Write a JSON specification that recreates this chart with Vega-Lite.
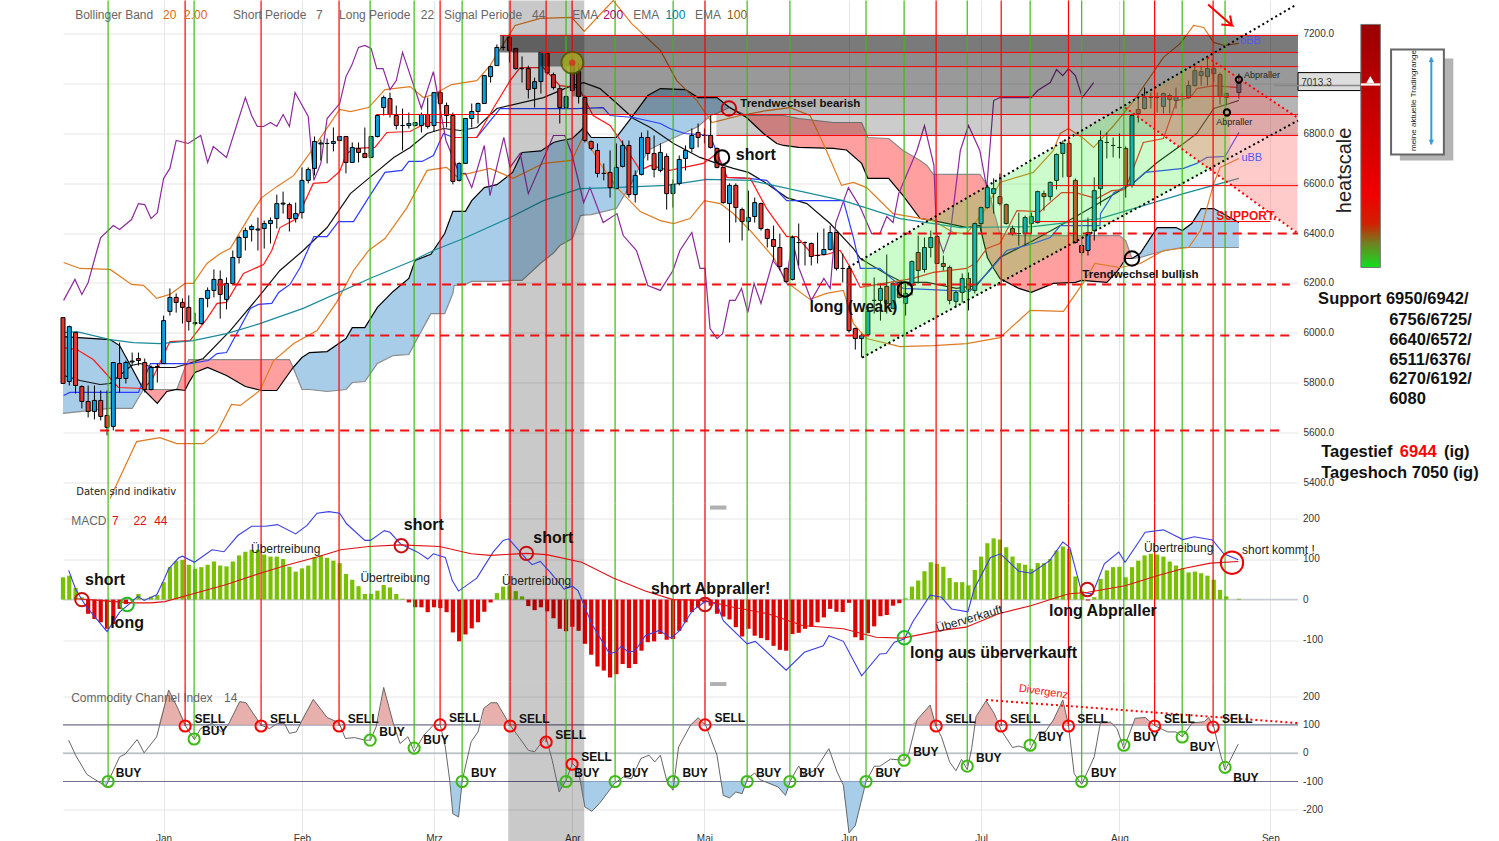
{
"$schema":"https://vega.github.io/schema/vega-lite/v6.json",
"description":"DAX Tageschart mit Bollinger, Ichimoku, MACD und CCI",
"background":"white",
"padding":{"left":60,"top":-2.5,"right":0,"bottom":0},
"spacing":0,
"bounds":"flush",
"config":{"font":"Liberation Sans","view":{"stroke":null},"axis":{"gridColor":"#e6e6e6","domain":false,"ticks":false,"labelFont":"Liberation Sans","labelColor":"#333333","labelFontSize":10,"labelOverlap":false}},
"datasets":{
"candles":[
{"n":-16,"o":6061,"h":6061,"l":5797,"c":5797},{"n":-15,"o":5805,"h":6029,"l":5789,"c":6025},{"n":-14,"o":6001,"h":6001,"l":5757,"c":5789},{"n":-13,"o":5785,"h":5789,"l":5697,"c":5725},{"n":-12,"o":5725,"h":5789,"l":5661,"c":5685},{"n":-11,"o":5685,"h":5789,"l":5653,"c":5729},{"n":-10,"o":5729,"h":5769,"l":5649,"c":5665},{"n":-9,"o":5669,"h":5769,"l":5589,"c":5621},{"n":-8,"o":5625,"h":5881,"l":5609,"c":5881},{"n":-7,"o":5877,"h":5961,"l":5761,"c":5817},{"n":-6,"o":5817,"h":5889,"l":5797,"c":5881},{"n":-5,"o":5883,"h":5921,"l":5869,"c":5887},{"n":-4,"o":5897,"h":5921,"l":5869,"c":5889},{"n":-3,"o":5881,"h":5897,"l":5761,"c":5773},{"n":-2,"o":5773,"h":5869,"l":5769,"c":5861},{"n":-1,"o":5863,"h":5877,"l":5801,"c":5865},
{"n":0,"o":5877,"h":6069,"l":5877,"c":6049},{"n":1,"o":6086,"h":6178,"l":6069,"c":6142},{"n":2,"o":6142,"h":6158,"l":6081,"c":6122},{"n":3,"o":6122,"h":6138,"l":6037,"c":6102},{"n":4,"o":6102,"h":6150,"l":6009,"c":6045},{"n":5,"o":6037,"h":6081,"l":6029,"c":6041},{"n":6,"o":6037,"h":6138,"l":6033,"c":6138},{"n":7,"o":6138,"h":6182,"l":6102,"c":6170},{"n":8,"o":6170,"h":6254,"l":6142,"c":6214},{"n":9,"o":6214,"h":6250,"l":6057,"c":6154},{"n":10,"o":6134,"h":6222,"l":6094,"c":6198},{"n":11,"o":6198,"h":6330,"l":6198,"c":6302},{"n":12,"o":6302,"h":6390,"l":6278,"c":6382},{"n":13,"o":6382,"h":6422,"l":6330,"c":6410},{"n":14,"o":6414,"h":6434,"l":6366,"c":6426},{"n":15,"o":6412,"h":6462,"l":6330,"c":6416},{"n":16,"o":6418,"h":6450,"l":6338,"c":6438},{"n":17,"o":6438,"h":6462,"l":6358,"c":6450},{"n":18,"o":6458,"h":6554,"l":6418,"c":6518},{"n":19,"o":6516,"h":6566,"l":6478,"c":6520},
{"n":20,"o":6514,"h":6522,"l":6406,"c":6458},{"n":21,"o":6458,"h":6522,"l":6442,"c":6478},{"n":22,"o":6482,"h":6663,"l":6458,"c":6611},{"n":23,"o":6611,"h":6663,"l":6599,"c":6655},{"n":24,"o":6659,"h":6787,"l":6631,"c":6767},{"n":25,"o":6757,"h":6775,"l":6691,"c":6761},{"n":26,"o":6759,"h":6779,"l":6679,"c":6759},{"n":27,"o":6759,"h":6823,"l":6727,"c":6767},{"n":28,"o":6771,"h":6787,"l":6771,"c":6787},{"n":29,"o":6787,"h":6787,"l":6639,"c":6683},{"n":30,"o":6683,"h":6763,"l":6683,"c":6743},{"n":31,"o":6739,"h":6763,"l":6683,"c":6723},{"n":32,"o":6719,"h":6823,"l":6703,"c":6703},{"n":33,"o":6703,"h":6787,"l":6703,"c":6787},{"n":34,"o":6787,"h":6871,"l":6783,"c":6871},{"n":35,"o":6903,"h":6951,"l":6871,"c":6943},{"n":36,"o":6939,"h":6963,"l":6863,"c":6875},{"n":37,"o":6871,"h":6911,"l":6815,"c":6831},{"n":38,"o":6831,"h":6899,"l":6731,"c":6831},{"n":39,"o":6831,"h":6883,"l":6819,"c":6839},
{"n":40,"o":6831,"h":6845,"l":6827,"c":6843},{"n":41,"o":6831,"h":6883,"l":6803,"c":6875},{"n":42,"o":6875,"h":6943,"l":6819,"c":6827},{"n":43,"o":6831,"h":6963,"l":6807,"c":6963},{"n":44,"o":6963,"h":6971,"l":6819,"c":6919},{"n":45,"o":6911,"h":6923,"l":6823,"c":6871},{"n":46,"o":6871,"h":6883,"l":6595,"c":6607},{"n":47,"o":6611,"h":6683,"l":6607,"c":6679},{"n":48,"o":6679,"h":6859,"l":6679,"c":6859},{"n":49,"o":6859,"h":6919,"l":6823,"c":6887},{"n":50,"o":6887,"h":6923,"l":6839,"c":6919},{"n":51,"o":6919,"h":7031,"l":6919,"c":7031},{"n":52,"o":7027,"h":7071,"l":7003,"c":7067},{"n":53,"o":7071,"h":7156,"l":7071,"c":7144},{"n":54,"o":7144,"h":7192,"l":7132,"c":7144},{"n":55,"o":7184,"h":7192,"l":7083,"c":7132},{"n":56,"o":7140,"h":7140,"l":7055,"c":7059},{"n":57,"o":7059,"h":7108,"l":7003,"c":7059},{"n":58,"o":7059,"h":7071,"l":6939,"c":6975},{"n":59,"o":6979,"h":7023,"l":6903,"c":7007},
{"n":60,"o":7007,"h":7124,"l":6959,"c":7124},{"n":61,"o":7120,"h":7124,"l":7035,"c":7043},{"n":62,"o":7035,"h":7043,"l":6975,"c":6983},{"n":63,"o":6979,"h":6991,"l":6839,"c":6903},{"n":64,"o":6903,"h":6951,"l":6899,"c":6947},{"n":65,"o":6971,"h":7112,"l":6967,"c":7083},{"n":66,"o":7047,"h":7079,"l":6919,"c":6947},{"n":67,"o":6943,"h":6951,"l":6763,"c":6771},{"n":68,"o":6767,"h":6771,"l":6731,"c":6739},{"n":69,"o":6731,"h":6759,"l":6623,"c":6639},{"n":70,"o":6639,"h":6679,"l":6611,"c":6639},{"n":71,"o":6643,"h":6731,"l":6542,"c":6582},{"n":72,"o":6578,"h":6759,"l":6578,"c":6663},{"n":73,"o":6667,"h":6771,"l":6663,"c":6751},{"n":74,"o":6751,"h":6771,"l":6542,"c":6554},{"n":75,"o":6554,"h":6651,"l":6522,"c":6631},{"n":76,"o":6635,"h":6803,"l":6631,"c":6783},{"n":77,"o":6783,"h":6811,"l":6691,"c":6719},{"n":78,"o":6719,"h":6791,"l":6623,"c":6655},{"n":79,"o":6651,"h":6759,"l":6643,"c":6723},
{"n":80,"o":6707,"h":6719,"l":6494,"c":6558},{"n":81,"o":6558,"h":6615,"l":6502,"c":6595},{"n":82,"o":6599,"h":6711,"l":6591,"c":6695},{"n":83,"o":6699,"h":6751,"l":6651,"c":6731},{"n":84,"o":6739,"h":6819,"l":6723,"c":6791},{"n":85,"o":6803,"h":6839,"l":6743,"c":6783},{"n":86,"o":6791,"h":6819,"l":6759,"c":6791},{"n":87,"o":6791,"h":6871,"l":6739,"c":6743},{"n":88,"o":6739,"h":6743,"l":6659,"c":6663},{"n":89,"o":6663,"h":6663,"l":6518,"c":6522},{"n":90,"o":6518,"h":6599,"l":6362,"c":6591},{"n":91,"o":6591,"h":6599,"l":6442,"c":6502},{"n":92,"o":6494,"h":6502,"l":6370,"c":6446},{"n":93,"o":6446,"h":6570,"l":6410,"c":6462},{"n":94,"o":6466,"h":6542,"l":6442,"c":6522},{"n":95,"o":6518,"h":6522,"l":6410,"c":6418},{"n":96,"o":6414,"h":6418,"l":6342,"c":6378},{"n":97,"o":6374,"h":6430,"l":6290,"c":6346},{"n":98,"o":6342,"h":6398,"l":6250,"c":6266},{"n":99,"o":6258,"h":6262,"l":6202,"c":6206},
{"n":100,"o":6214,"h":6390,"l":6210,"c":6382},{"n":101,"o":6362,"h":6438,"l":6270,"c":6362},{"n":102,"o":6362,"h":6366,"l":6270,"c":6362},{"n":103,"o":6358,"h":6362,"l":6270,"c":6306},{"n":104,"o":6310,"h":6402,"l":6278,"c":6310},{"n":105,"o":6314,"h":6418,"l":6310,"c":6334},{"n":106,"o":6334,"h":6430,"l":6330,"c":6402},{"n":107,"o":6402,"h":6402,"l":6250,"c":6258},{"n":108,"o":6258,"h":6318,"l":6202,"c":6258},{"n":109,"o":6258,"h":6262,"l":6001,"c":6009},{"n":110,"o":6017,"h":6021,"l":5933,"c":5977},{"n":111,"o":5977,"h":5997,"l":5901,"c":5989},{"n":112,"o":5993,"h":6102,"l":5989,"c":6086},{"n":113,"o":6130,"h":6222,"l":6077,"c":6130},{"n":114,"o":6130,"h":6198,"l":6049,"c":6178},{"n":115,"o":6186,"h":6314,"l":6077,"c":6118},{"n":116,"o":6098,"h":6202,"l":6094,"c":6198},{"n":117,"o":6202,"h":6206,"l":6138,"c":6142},{"n":118,"o":6118,"h":6198,"l":6069,"c":6158},{"n":119,"o":6190,"h":6290,"l":6150,"c":6286},
{"n":120,"o":6322,"h":6390,"l":6198,"c":6250},{"n":121,"o":6254,"h":6382,"l":6242,"c":6342},{"n":122,"o":6342,"h":6410,"l":6302,"c":6382},{"n":123,"o":6386,"h":6386,"l":6278,"c":6278},{"n":124,"o":6278,"h":6310,"l":6250,"c":6266},{"n":125,"o":6262,"h":6270,"l":6114,"c":6130},{"n":126,"o":6126,"h":6170,"l":6102,"c":6162},{"n":127,"o":6162,"h":6238,"l":6122,"c":6218},{"n":128,"o":6218,"h":6242,"l":6090,"c":6174},{"n":129,"o":6170,"h":6442,"l":6158,"c":6438},{"n":130,"o":6438,"h":6506,"l":6402,"c":6502},{"n":131,"o":6502,"h":6586,"l":6498,"c":6582},{"n":132,"o":6558,"h":6619,"l":6478,"c":6578},{"n":133,"o":6546,"h":6639,"l":6510,"c":6518},{"n":134,"o":6514,"h":6518,"l":6434,"c":6438},{"n":135,"o":6418,"h":6430,"l":6390,"c":6398},{"n":136,"o":6398,"h":6482,"l":6350,"c":6398},{"n":137,"o":6398,"h":6470,"l":6350,"c":6462},{"n":138,"o":6438,"h":6482,"l":6398,"c":6466},{"n":139,"o":6442,"h":6570,"l":6438,"c":6566},
{"n":140,"o":6558,"h":6570,"l":6490,"c":6546},{"n":141,"o":6546,"h":6607,"l":6530,"c":6603},{"n":142,"o":6611,"h":6719,"l":6574,"c":6715},{"n":143,"o":6719,"h":6771,"l":6623,"c":6759},{"n":144,"o":6759,"h":6771,"l":6623,"c":6627},{"n":145,"o":6611,"h":6619,"l":6358,"c":6362},{"n":146,"o":6350,"h":6390,"l":6310,"c":6322},{"n":147,"o":6330,"h":6462,"l":6310,"c":6402},{"n":148,"o":6410,"h":6623,"l":6370,"c":6570},{"n":149,"o":6578,"h":6811,"l":6510,"c":6771},{"n":150,"o":6763,"h":6803,"l":6699,"c":6763},{"n":151,"o":6751,"h":6783,"l":6703,"c":6751},{"n":152,"o":6743,"h":6799,"l":6699,"c":6743},{"n":153,"o":6739,"h":6747,"l":6542,"c":6591},{"n":154,"o":6591,"h":6879,"l":6582,"c":6871},{"n":155,"o":6895,"h":6943,"l":6843,"c":6879},{"n":156,"o":6899,"h":6983,"l":6895,"c":6943},{"n":157,"o":6943,"h":6963,"l":6899,"c":6943},{"n":158,"o":6943,"h":6963,"l":6883,"c":6943},{"n":159,"o":6907,"h":6963,"l":6879,"c":6959},
{"n":160,"o":6951,"h":6959,"l":6879,"c":6935},{"n":161,"o":6931,"h":6983,"l":6899,"c":6947},{"n":162,"o":6947,"h":6959,"l":6903,"c":6947},{"n":163,"o":6943,"h":7011,"l":6939,"c":6991},{"n":164,"o":6991,"h":7071,"l":6987,"c":7051},{"n":165,"o":7031,"h":7071,"l":6991,"c":7047},{"n":166,"o":7027,"h":7104,"l":6991,"c":7059},{"n":167,"o":7039,"h":7079,"l":7003,"c":7059},{"n":168,"o":7035,"h":7043,"l":6915,"c":6947},{"n":169,"o":6943,"h":6963,"l":6911,"c":6959},{"n":171,"o":6963,"h":7039,"l":6939,"c":6999}
],
"cloud":[
{"seg":1,"kind":"blue","n":-16,"v":5985,"v2":5677},{"seg":1,"kind":"blue","n":-8.5,"v":5973,"v2":5697},{"seg":1,"kind":"blue","n":-7,"v":5949,"v2":5697},{"seg":1,"kind":"blue","n":-5,"v":5857,"v2":5697},{"seg":1,"kind":"blue","n":-3.2,"v":5773,"v2":5773},
{"seg":2,"kind":"red","n":-3.2,"v":5773,"v2":5773},{"seg":2,"kind":"red","n":-1,"v":5717,"v2":5773},{"seg":2,"kind":"red","n":0.5,"v":5765,"v2":5773},{"seg":2,"kind":"red","n":2.1,"v":5773,"v2":5773},{"seg":2,"kind":"red","n":3.4,"v":5769,"v2":5861},{"seg":2,"kind":"red","n":4,"v":5800,"v2":5893},{"seg":2,"kind":"red","n":5,"v":5841,"v2":5893},{"seg":2,"kind":"red","n":7,"v":5861,"v2":5893},{"seg":2,"kind":"red","n":10,"v":5829,"v2":5893},{"seg":2,"kind":"red","n":13,"v":5785,"v2":5893},{"seg":2,"kind":"red","n":15.6,"v":5769,"v2":5893},{"seg":2,"kind":"red","n":18,"v":5769,"v2":5893},{"seg":2,"kind":"red","n":20,"v":5840,"v2":5893},{"seg":2,"kind":"red","n":20.6,"v":5861,"v2":5861},
{"seg":3,"kind":"blue","n":20.6,"v":5861,"v2":5861},{"seg":3,"kind":"blue","n":22,"v":5901,"v2":5773},{"seg":3,"kind":"blue","n":23.2,"v":5921,"v2":5773},{"seg":3,"kind":"blue","n":26,"v":5925,"v2":5765},{"seg":3,"kind":"blue","n":29,"v":5977,"v2":5773},{"seg":3,"kind":"blue","n":30,"v":6021,"v2":5801},{"seg":3,"kind":"blue","n":32,"v":6021,"v2":5805},{"seg":3,"kind":"blue","n":34,"v":6102,"v2":5877},{"seg":3,"kind":"blue","n":36.5,"v":6166,"v2":5909},{"seg":3,"kind":"blue","n":39,"v":6218,"v2":5913},{"seg":3,"kind":"blue","n":40,"v":6290,"v2":5961},{"seg":3,"kind":"blue","n":42.5,"v":6315,"v2":6077},{"seg":3,"kind":"blue","n":44.7,"v":6398,"v2":6077},{"seg":3,"kind":"blue","n":46,"v":6487,"v2":6158},{"seg":3,"kind":"blue","n":46.2,"v":6487,"v2":6190},{"seg":3,"kind":"blue","n":48,"v":6487,"v2":6194},{"seg":3,"kind":"blue","n":49,"v":6530,"v2":6206},{"seg":3,"kind":"blue","n":51,"v":6582,"v2":6206},{"seg":3,"kind":"blue","n":53,"v":6594,"v2":6206},{"seg":3,"kind":"blue","n":55.5,"v":6643,"v2":6210},{"seg":3,"kind":"blue","n":57,"v":6723,"v2":6210},{"seg":3,"kind":"blue","n":60,"v":6729,"v2":6280},{"seg":3,"kind":"blue","n":62,"v":6763,"v2":6320},{"seg":3,"kind":"blue","n":63,"v":6770,"v2":6350},{"seg":3,"kind":"blue","n":65,"v":6779,"v2":6378},{"seg":3,"kind":"blue","n":66.3,"v":6810,"v2":6470},{"seg":3,"kind":"blue","n":66.8,"v":6823,"v2":6472},{"seg":3,"kind":"blue","n":68,"v":6783,"v2":6474},{"seg":3,"kind":"blue","n":72,"v":6783,"v2":6498},{"seg":3,"kind":"blue","n":74.4,"v":6863,"v2":6600},{"seg":3,"kind":"blue","n":77,"v":6951,"v2":6731},{"seg":3,"kind":"blue","n":79,"v":6979,"v2":6757},{"seg":3,"kind":"blue","n":83,"v":6975,"v2":6803},{"seg":3,"kind":"blue","n":85,"v":6943,"v2":6827},{"seg":3,"kind":"blue","n":87,"v":6943,"v2":6871},{"seg":3,"kind":"blue","n":88,"v":6943,"v2":6880},{"seg":3,"kind":"blue","n":90,"v":6903,"v2":6903},
{"seg":4,"kind":"red","n":90,"v":6903,"v2":6903},{"seg":4,"kind":"red","n":92.7,"v":6863,"v2":6871},{"seg":4,"kind":"red","n":95.4,"v":6799,"v2":6871},{"seg":4,"kind":"red","n":97.5,"v":6759,"v2":6871},{"seg":4,"kind":"red","n":98.6,"v":6751,"v2":6871},{"seg":4,"kind":"red","n":101,"v":6743,"v2":6859},{"seg":4,"kind":"red","n":106.5,"v":6739,"v2":6843},{"seg":4,"kind":"red","n":108.6,"v":6733,"v2":6843},{"seg":4,"kind":"red","n":111,"v":6679,"v2":6843},{"seg":4,"kind":"red","n":112,"v":6619,"v2":6783},{"seg":4,"kind":"red","n":115.3,"v":6619,"v2":6779},{"seg":4,"kind":"red","n":117.6,"v":6550,"v2":6731},{"seg":4,"kind":"red","n":120.3,"v":6458,"v2":6691},{"seg":4,"kind":"red","n":121.4,"v":6454,"v2":6671},{"seg":4,"kind":"red","n":122.4,"v":6450,"v2":6635},{"seg":4,"kind":"red","n":127.8,"v":6422,"v2":6635},{"seg":4,"kind":"red","n":129.8,"v":6430,"v2":6635},{"seg":4,"kind":"red","n":131,"v":6302,"v2":6591},{"seg":4,"kind":"red","n":132,"v":6258,"v2":6490},{"seg":4,"kind":"red","n":133,"v":6218,"v2":6398},{"seg":4,"kind":"red","n":136,"v":6178,"v2":6390},{"seg":4,"kind":"red","n":138,"v":6162,"v2":6390},{"seg":4,"kind":"red","n":141.5,"v":6198,"v2":6390},{"seg":4,"kind":"red","n":145,"v":6202,"v2":6390},{"seg":4,"kind":"red","n":146,"v":6210,"v2":6390},{"seg":4,"kind":"red","n":150,"v":6202,"v2":6390},{"seg":4,"kind":"red","n":151.5,"v":6242,"v2":6390},{"seg":4,"kind":"red","n":152,"v":6258,"v2":6390},{"seg":4,"kind":"red","n":153,"v":6298,"v2":6370},{"seg":4,"kind":"red","n":154,"v":6298,"v2":6298},
{"seg":5,"kind":"blue","n":154,"v":6298,"v2":6298},{"seg":5,"kind":"blue","n":155.3,"v":6318,"v2":6302},{"seg":5,"kind":"blue","n":158,"v":6422,"v2":6322},{"seg":5,"kind":"blue","n":161,"v":6422,"v2":6338},{"seg":5,"kind":"blue","n":162,"v":6410,"v2":6342},{"seg":5,"kind":"blue","n":163.5,"v":6438,"v2":6342},{"seg":5,"kind":"blue","n":165,"v":6498,"v2":6342},{"seg":5,"kind":"blue","n":167,"v":6498,"v2":6342},{"seg":5,"kind":"blue","n":171,"v":6442,"v2":6342}
],
"lines":[
{"s":"bbUp","n":-15.9,"v":6282},{"s":"bbUp","n":-13.3,"v":6258},{"s":"bbUp","n":-8.5,"v":6254},{"s":"bbUp","n":-5.1,"v":6194},{"s":"bbUp","n":-3.2,"v":6190},{"s":"bbUp","n":-1.1,"v":6138},{"s":"bbUp","n":1,"v":6154},{"s":"bbUp","n":3.4,"v":6198},{"s":"bbUp","n":4.7,"v":6198},{"s":"bbUp","n":6.9,"v":6278},{"s":"bbUp","n":9,"v":6318},{"s":"bbUp","n":10.6,"v":6338},{"s":"bbUp","n":14,"v":6482},{"s":"bbUp","n":15.6,"v":6542},{"s":"bbUp","n":18,"v":6586},{"s":"bbUp","n":20.7,"v":6631},{"s":"bbUp","n":23.8,"v":6739},{"s":"bbUp","n":28,"v":6895},{"s":"bbUp","n":29.7,"v":6887},{"s":"bbUp","n":32.6,"v":6903},{"s":"bbUp","n":35.2,"v":6975},{"s":"bbUp","n":39.2,"v":6987},{"s":"bbUp","n":41.3,"v":6943},{"s":"bbUp","n":42.9,"v":6955},{"s":"bbUp","n":45.8,"v":6995},{"s":"bbUp","n":49.8,"v":7011},{"s":"bbUp","n":51.9,"v":7071},{"s":"bbUp","n":55.1,"v":7200},{"s":"bbUp","n":55.9,"v":7232},{"s":"bbUp","n":59.9,"v":7260},{"s":"bbUp","n":64.9,"v":7264},{"s":"bbUp","n":66.9,"v":7208},{"s":"bbUp","n":69.4,"v":7276},{"s":"bbUp","n":71.5,"v":7332},{"s":"bbUp","n":74.4,"v":7240},{"s":"bbUp","n":79,"v":7132},{"s":"bbUp","n":81.6,"v":7011},{"s":"bbUp","n":84.8,"v":6931},{"s":"bbUp","n":87.2,"v":6843},{"s":"bbUp","n":91.7,"v":6871},{"s":"bbUp","n":95.9,"v":6891},{"s":"bbUp","n":99.6,"v":6903},{"s":"bbUp","n":102.8,"v":6871},{"s":"bbUp","n":104.9,"v":6759},{"s":"bbUp","n":107.8,"v":6591},{"s":"bbUp","n":109.7,"v":6603},{"s":"bbUp","n":111.8,"v":6582},{"s":"bbUp","n":116,"v":6478},{"s":"bbUp","n":122.4,"v":6450},{"s":"bbUp","n":125.6,"v":6402},{"s":"bbUp","n":127.7,"v":6398},{"s":"bbUp","n":130.9,"v":6502},{"s":"bbUp","n":133,"v":6603},{"s":"bbUp","n":138.3,"v":6643},{"s":"bbUp","n":141.5,"v":6731},{"s":"bbUp","n":142.6,"v":6799},{"s":"bbUp","n":143.9,"v":6819},{"s":"bbUp","n":146.3,"v":6779},{"s":"bbUp","n":147.9,"v":6743},{"s":"bbUp","n":151.1,"v":6831},{"s":"bbUp","n":154.3,"v":6931},{"s":"bbUp","n":159,"v":7104},{"s":"bbUp","n":161.7,"v":7160},{"s":"bbUp","n":163.8,"v":7232},{"s":"bbUp","n":165.4,"v":7224},{"s":"bbUp","n":167,"v":7164},{"s":"bbUp","n":168.6,"v":7152},{"s":"bbUp","n":171,"v":7160},
{"s":"bbLo","n":-8.5,"v":5336},{"s":"bbLo","n":-7.4,"v":5396},{"s":"bbLo","n":-4.3,"v":5564},{"s":"bbLo","n":-0.6,"v":5580},{"s":"bbLo","n":2.1,"v":5556},{"s":"bbLo","n":6.3,"v":5556},{"s":"bbLo","n":8.5,"v":5601},{"s":"bbLo","n":10.8,"v":5713},{"s":"bbLo","n":12.2,"v":5709},{"s":"bbLo","n":15.3,"v":5769},{"s":"bbLo","n":17.5,"v":5889},{"s":"bbLo","n":20.7,"v":5957},{"s":"bbLo","n":24.4,"v":6009},{"s":"bbLo","n":27.5,"v":6122},{"s":"bbLo","n":30.2,"v":6250},{"s":"bbLo","n":32.6,"v":6330},{"s":"bbLo","n":35.2,"v":6378},{"s":"bbLo","n":38.7,"v":6502},{"s":"bbLo","n":41.9,"v":6651},{"s":"bbLo","n":45,"v":6663},{"s":"bbLo","n":46.6,"v":6627},{"s":"bbLo","n":51.9,"v":6659},{"s":"bbLo","n":55.6,"v":6619},{"s":"bbLo","n":60.4,"v":6679},{"s":"bbLo","n":64.9,"v":6691},{"s":"bbLo","n":66.8,"v":6791},{"s":"bbLo","n":69.4,"v":6679},{"s":"bbLo","n":72.1,"v":6582},{"s":"bbLo","n":75.8,"v":6486},{"s":"bbLo","n":79,"v":6450},{"s":"bbLo","n":81.1,"v":6438},{"s":"bbLo","n":83.7,"v":6458},{"s":"bbLo","n":86,"v":6530},{"s":"bbLo","n":88.5,"v":6518},{"s":"bbLo","n":90.6,"v":6478},{"s":"bbLo","n":93.3,"v":6410},{"s":"bbLo","n":97,"v":6302},{"s":"bbLo","n":99.1,"v":6202},{"s":"bbLo","n":102.8,"v":6134},{"s":"bbLo","n":105.4,"v":6158},{"s":"bbLo","n":108.1,"v":6170},{"s":"bbLo","n":109.7,"v":6037},{"s":"bbLo","n":111.8,"v":5977},{"s":"bbLo","n":117.1,"v":5945},{"s":"bbLo","n":122.4,"v":5949},{"s":"bbLo","n":127.7,"v":5957},{"s":"bbLo","n":133,"v":5981},{"s":"bbLo","n":137.8,"v":6090},{"s":"bbLo","n":143.1,"v":6086},{"s":"bbLo","n":146.3,"v":6202},{"s":"bbLo","n":148.1,"v":6278},{"s":"bbLo","n":152.1,"v":6262},{"s":"bbLo","n":155.3,"v":6278},{"s":"bbLo","n":159,"v":6330},{"s":"bbLo","n":163,"v":6342},{"s":"bbLo","n":164.9,"v":6410},{"s":"bbLo","n":167,"v":6598},{"s":"bbLo","n":168,"v":6663},{"s":"bbLo","n":171,"v":6699},
{"s":"black","n":-15.9,"v":5829},{"s":"black","n":-13.3,"v":5809},{"s":"black","n":-10.1,"v":5793},{"s":"black","n":-8.5,"v":5797},{"s":"black","n":-5.1,"v":5869},{"s":"black","n":-3.7,"v":5877},{"s":"black","n":-1.6,"v":5861},{"s":"black","n":1.8,"v":5861},{"s":"black","n":4,"v":5877},{"s":"black","n":6.3,"v":5897},{"s":"black","n":10.6,"v":6009},{"s":"black","n":15.3,"v":6150},{"s":"black","n":18.5,"v":6250},{"s":"black","n":22.2,"v":6330},{"s":"black","n":26,"v":6422},{"s":"black","n":29.7,"v":6558},{"s":"black","n":32.8,"v":6623},{"s":"black","n":36.6,"v":6703},{"s":"black","n":39.2,"v":6743},{"s":"black","n":41.9,"v":6799},{"s":"black","n":44.5,"v":6819},{"s":"black","n":47.2,"v":6811},{"s":"black","n":49.8,"v":6823},{"s":"black","n":53,"v":6899},{"s":"black","n":60.4,"v":6943},{"s":"black","n":64.9,"v":6991},{"s":"black","n":66.8,"v":7003},{"s":"black","n":69.4,"v":6979},{"s":"black","n":72.1,"v":6919},{"s":"black","n":74.7,"v":6859},{"s":"black","n":77.4,"v":6823},{"s":"black","n":81.1,"v":6759},{"s":"black","n":85.3,"v":6703},{"s":"black","n":88,"v":6679},{"s":"black","n":90.6,"v":6659},{"s":"black","n":93,"v":6643},{"s":"black","n":95.9,"v":6599},{"s":"black","n":99.1,"v":6542},{"s":"black","n":102.3,"v":6518},{"s":"black","n":106,"v":6438},{"s":"black","n":109.7,"v":6338},{"s":"black","n":110.8,"v":6298},{"s":"black","n":114.5,"v":6242},{"s":"black","n":117.6,"v":6202},{"s":"black","n":121.4,"v":6202},{"s":"black","n":126.1,"v":6178},{"s":"black","n":129.3,"v":6190},{"s":"black","n":133,"v":6302},{"s":"black","n":138.3,"v":6370},{"s":"black","n":142.6,"v":6430},{"s":"black","n":148.9,"v":6522},{"s":"black","n":154.3,"v":6603},{"s":"black","n":158,"v":6683},{"s":"black","n":162.2,"v":6759},{"s":"black","n":164.3,"v":6799},{"s":"black","n":167,"v":6899},{"s":"black","n":171,"v":6931},
{"s":"blue","n":-15.9,"v":5749},{"s":"blue","n":-14.9,"v":5761},{"s":"blue","n":-4,"v":5761},{"s":"blue","n":-2.1,"v":5877},{"s":"blue","n":4.2,"v":5877},{"s":"blue","n":7.1,"v":5889},{"s":"blue","n":8.5,"v":5917},{"s":"blue","n":10,"v":5921},{"s":"blue","n":13.8,"v":6098},{"s":"blue","n":15.1,"v":6114},{"s":"blue","n":17.2,"v":6118},{"s":"blue","n":18.3,"v":6162},{"s":"blue","n":20.1,"v":6194},{"s":"blue","n":21.7,"v":6262},{"s":"blue","n":23.9,"v":6386},{"s":"blue","n":26,"v":6386},{"s":"blue","n":27.8,"v":6446},{"s":"blue","n":30.2,"v":6446},{"s":"blue","n":32.6,"v":6542},{"s":"blue","n":35.2,"v":6643},{"s":"blue","n":37.9,"v":6651},{"s":"blue","n":39,"v":6687},{"s":"blue","n":41.1,"v":6687},{"s":"blue","n":42.9,"v":6711},{"s":"blue","n":44.5,"v":6799},{"s":"blue","n":46.1,"v":6783},{"s":"blue","n":49.8,"v":6783},{"s":"blue","n":53,"v":6883},{"s":"blue","n":53.5,"v":6899},{"s":"blue","n":65.7,"v":6899},{"s":"blue","n":69.9,"v":6903},{"s":"blue","n":71,"v":6871},{"s":"blue","n":74.7,"v":6863},{"s":"blue","n":79,"v":6839},{"s":"blue","n":80.5,"v":6819},{"s":"blue","n":82.9,"v":6799},{"s":"blue","n":86.9,"v":6791},{"s":"blue","n":89.6,"v":6623},{"s":"blue","n":93,"v":6619},{"s":"blue","n":95.9,"v":6611},{"s":"blue","n":99.1,"v":6530},{"s":"blue","n":108.1,"v":6530},{"s":"blue","n":109.7,"v":6382},{"s":"blue","n":110.8,"v":6258},{"s":"blue","n":113.9,"v":6258},{"s":"blue","n":117.6,"v":6178},{"s":"blue","n":128.2,"v":6166},{"s":"blue","n":131.4,"v":6250},{"s":"blue","n":134.1,"v":6330},{"s":"blue","n":138.3,"v":6358},{"s":"blue","n":141,"v":6382},{"s":"blue","n":142.6,"v":6430},{"s":"blue","n":148.9,"v":6430},{"s":"blue","n":149,"v":6478},{"s":"blue","n":151.1,"v":6562},{"s":"blue","n":154.3,"v":6603},{"s":"blue","n":156.1,"v":6643},{"s":"blue","n":162.2,"v":6659},{"s":"blue","n":164.3,"v":6679},{"s":"blue","n":165.9,"v":6703},{"s":"blue","n":168.8,"v":6707},{"s":"blue","n":171,"v":6803},
{"s":"red","n":-15.9,"v":5941},{"s":"red","n":-13.8,"v":5933},{"s":"red","n":-11.2,"v":5893},{"s":"red","n":-9.6,"v":5849},{"s":"red","n":-7.2,"v":5781},{"s":"red","n":-3.2,"v":5777},{"s":"red","n":-1.9,"v":5809},{"s":"red","n":1,"v":5965},{"s":"red","n":4.2,"v":5969},{"s":"red","n":6.9,"v":6057},{"s":"red","n":8.5,"v":6118},{"s":"red","n":10,"v":6122},{"s":"red","n":12.7,"v":6238},{"s":"red","n":15.9,"v":6274},{"s":"red","n":17.2,"v":6330},{"s":"red","n":18.5,"v":6422},{"s":"red","n":21.2,"v":6458},{"s":"red","n":23.8,"v":6599},{"s":"red","n":26,"v":6603},{"s":"red","n":28,"v":6647},{"s":"red","n":29.1,"v":6719},{"s":"red","n":30.5,"v":6739},{"s":"red","n":33.6,"v":6743},{"s":"red","n":35.5,"v":6803},{"s":"red","n":39.2,"v":6807},{"s":"red","n":41.9,"v":6843},{"s":"red","n":45.8,"v":6843},{"s":"red","n":46.1,"v":6783},{"s":"red","n":49.8,"v":6783},{"s":"red","n":52.5,"v":6903},{"s":"red","n":55.1,"v":7011},{"s":"red","n":56.7,"v":7063},{"s":"red","n":60.4,"v":7063},{"s":"red","n":63,"v":6991},{"s":"red","n":66,"v":6983},{"s":"red","n":68.3,"v":6871},{"s":"red","n":71,"v":6831},{"s":"red","n":72.9,"v":6763},{"s":"red","n":75.8,"v":6651},{"s":"red","n":77.4,"v":6671},{"s":"red","n":80.5,"v":6651},{"s":"red","n":85.8,"v":6679},{"s":"red","n":88,"v":6719},{"s":"red","n":89.6,"v":6623},{"s":"red","n":93.3,"v":6619},{"s":"red","n":95.9,"v":6498},{"s":"red","n":99.1,"v":6386},{"s":"red","n":100.7,"v":6386},{"s":"red","n":103.3,"v":6310},{"s":"red","n":105.4,"v":6314},{"s":"red","n":107.6,"v":6330},{"s":"red","n":109.2,"v":6262},{"s":"red","n":110.8,"v":6182},{"s":"red","n":119.2,"v":6218},{"s":"red","n":122.4,"v":6242},{"s":"red","n":127.7,"v":6258},{"s":"red","n":129.3,"v":6282},{"s":"red","n":130.9,"v":6338},{"s":"red","n":133,"v":6358},{"s":"red","n":135.7,"v":6490},{"s":"red","n":139.4,"v":6486},{"s":"red","n":140.4,"v":6510},{"s":"red","n":142.8,"v":6562},{"s":"red","n":145,"v":6562},{"s":"red","n":148.4,"v":6538},{"s":"red","n":150.8,"v":6570},{"s":"red","n":152.9,"v":6574},{"s":"red","n":155.8,"v":6763},{"s":"red","n":159,"v":6779},{"s":"red","n":161.1,"v":6931},{"s":"red","n":163.3,"v":6943},{"s":"red","n":164.3,"v":6979},{"s":"red","n":167,"v":6991},{"s":"red","n":171,"v":6983},
{"s":"purple","n":-15.9,"v":6130},{"s":"purple","n":-14.1,"v":6214},{"s":"purple","n":-13,"v":6154},{"s":"purple","n":-12,"v":6202},{"s":"purple","n":-10.6,"v":6330},{"s":"purple","n":-10,"v":6382},{"s":"purple","n":-8,"v":6430},{"s":"purple","n":-7,"v":6414},{"s":"purple","n":-5.1,"v":6454},{"s":"purple","n":-4,"v":6518},{"s":"purple","n":-3,"v":6514},{"s":"purple","n":-2,"v":6458},{"s":"purple","n":-1,"v":6482},{"s":"purple","n":0,"v":6619},{"s":"purple","n":1,"v":6659},{"s":"purple","n":2,"v":6771},{"s":"purple","n":3.9,"v":6759},{"s":"purple","n":5.9,"v":6791},{"s":"purple","n":7,"v":6683},{"s":"purple","n":7.9,"v":6747},{"s":"purple","n":10,"v":6703},{"s":"purple","n":13,"v":6943},{"s":"purple","n":14,"v":6871},{"s":"purple","n":14.9,"v":6827},{"s":"purple","n":15.9,"v":6827},{"s":"purple","n":17,"v":6843},{"s":"purple","n":18,"v":6827},{"s":"purple","n":19,"v":6875},{"s":"purple","n":20,"v":6827},{"s":"purple","n":20.9,"v":6963},{"s":"purple","n":23,"v":6867},{"s":"purple","n":23.9,"v":6611},{"s":"purple","n":25,"v":6679},{"s":"purple","n":26,"v":6859},{"s":"purple","n":28,"v":6919},{"s":"purple","n":29,"v":7027},{"s":"purple","n":29.9,"v":7071},{"s":"purple","n":31,"v":7144},{"s":"purple","n":32,"v":7152},{"s":"purple","n":33,"v":7140},{"s":"purple","n":33.9,"v":7059},{"s":"purple","n":34.9,"v":7059},{"s":"purple","n":36,"v":6975},{"s":"purple","n":37,"v":7011},{"s":"purple","n":38,"v":7124},{"s":"purple","n":41,"v":6899},{"s":"purple","n":42.9,"v":7047},{"s":"purple","n":44.9,"v":6771},{"s":"purple","n":46,"v":6703},{"s":"purple","n":47,"v":6639},{"s":"purple","n":48,"v":6639},{"s":"purple","n":49,"v":6582},{"s":"purple","n":51,"v":6751},{"s":"purple","n":51.9,"v":6550},{"s":"purple","n":54.1,"v":6783},{"s":"purple","n":55.1,"v":6663},{"s":"purple","n":56.7,"v":6719},{"s":"purple","n":58,"v":6558},{"s":"purple","n":62,"v":6791},{"s":"purple","n":63.8,"v":6791},{"s":"purple","n":64.9,"v":6719},{"s":"purple","n":66.8,"v":6522},{"s":"purple","n":67.8,"v":6582},{"s":"purple","n":69.9,"v":6442},{"s":"purple","n":72.1,"v":6478},{"s":"purple","n":73.1,"v":6390},{"s":"purple","n":75.2,"v":6330},{"s":"purple","n":77,"v":6190},{"s":"purple","n":79,"v":6170},{"s":"purple","n":81,"v":6250},{"s":"purple","n":82.1,"v":6330},{"s":"purple","n":84,"v":6402},{"s":"purple","n":85.3,"v":6258},{"s":"purple","n":86.1,"v":6258},{"s":"purple","n":86.9,"v":6017},{"s":"purple","n":88,"v":5977},{"s":"purple","n":88.9,"v":5997},{"s":"purple","n":90,"v":6130},{"s":"purple","n":90.9,"v":6130},{"s":"purple","n":91.9,"v":6178},{"s":"purple","n":92.9,"v":6081},{"s":"purple","n":93.9,"v":6198},{"s":"purple","n":95,"v":6118},{"s":"purple","n":96.9,"v":6290},{"s":"purple","n":98,"v":6254},{"s":"purple","n":99,"v":6202},{"s":"purple","n":100,"v":6374},{"s":"purple","n":101,"v":6262},{"s":"purple","n":103,"v":6130},{"s":"purple","n":105,"v":6218},{"s":"purple","n":106,"v":6178},{"s":"purple","n":106.9,"v":6442},{"s":"purple","n":108.9,"v":6582},{"s":"purple","n":110.8,"v":6502},{"s":"purple","n":112.6,"v":6398},{"s":"purple","n":113.9,"v":6398},{"s":"purple","n":115,"v":6466},{"s":"purple","n":116,"v":6442},{"s":"purple","n":116.9,"v":6558},{"s":"purple","n":119.8,"v":6731},{"s":"purple","n":121,"v":6831},{"s":"purple","n":122.5,"v":6671},{"s":"purple","n":122.9,"v":6402},{"s":"purple","n":124,"v":6322},{"s":"purple","n":125.1,"v":6398},{"s":"purple","n":126.7,"v":6731},{"s":"purple","n":128,"v":6831},{"s":"purple","n":129.8,"v":6731},{"s":"purple","n":130.9,"v":6582},{"s":"purple","n":132,"v":6931},{"s":"purple","n":133,"v":6943},{"s":"purple","n":138,"v":6943},{"s":"purple","n":139,"v":6971},{"s":"purple","n":141,"v":7003},{"s":"purple","n":142,"v":7055},{"s":"purple","n":143,"v":7031},{"s":"purple","n":143.9,"v":7059},{"s":"purple","n":145,"v":7031},{"s":"purple","n":146.1,"v":6943},{"s":"purple","n":147.9,"v":7003},
{"s":"teal","n":-15.9,"v":6001},{"s":"teal","n":-13.8,"v":6005},{"s":"teal","n":-8.5,"v":5973},{"s":"teal","n":-4.8,"v":5961},{"s":"teal","n":-0.6,"v":5957},{"s":"teal","n":4.7,"v":5969},{"s":"teal","n":10,"v":5997},{"s":"teal","n":15.3,"v":6037},{"s":"teal","n":22.2,"v":6098},{"s":"teal","n":32.8,"v":6218},{"s":"teal","n":39.7,"v":6290},{"s":"teal","n":42.9,"v":6330},{"s":"teal","n":47.7,"v":6378},{"s":"teal","n":55.1,"v":6462},{"s":"teal","n":60.4,"v":6530},{"s":"teal","n":66.2,"v":6578},{"s":"teal","n":71.5,"v":6582},{"s":"teal","n":80,"v":6591},{"s":"teal","n":86.4,"v":6615},{"s":"teal","n":93.3,"v":6611},{"s":"teal","n":108.1,"v":6530},{"s":"teal","n":117.1,"v":6458},{"s":"teal","n":126.7,"v":6422},{"s":"teal","n":138.3,"v":6426},{"s":"teal","n":148.9,"v":6458},{"s":"teal","n":162.2,"v":6558},{"s":"teal","n":171,"v":6619}
],
"signals":[
{"n":-8.83,"kind":"buy","v":-100},{"n":3.42,"kind":"sell","v":96},{"n":4.85,"kind":"buy","v":50},{"n":15.5,"kind":"sell","v":96},{"n":27.9,"kind":"sell","v":96},{"n":32.84,"kind":"buy","v":46},{"n":39.84,"kind":"buy","v":18},{"n":43.97,"kind":"sell","v":100},{"n":47.47,"kind":"buy","v":-100},{"n":55.1,"kind":"sell","v":96},{"n":60.83,"kind":"sell","v":39},{"n":64,"kind":"buy","v":-100},{"n":64.96,"kind":"sell","v":-39},{"n":71.8,"kind":"buy","v":-100},{"n":81.03,"kind":"buy","v":-100},{"n":86.1,"kind":"sell","v":100},{"n":92.8,"kind":"buy","v":-100},{"n":99.6,"kind":"buy","v":-100},{"n":111.7,"kind":"buy","v":-100},{"n":117.76,"kind":"buy","v":-25},{"n":122.85,"kind":"sell","v":96},{"n":127.8,"kind":"buy","v":-46},{"n":133.2,"kind":"sell","v":96},{"n":137.8,"kind":"buy","v":28},{"n":143.9,"kind":"sell","v":96},{"n":146,"kind":"buy","v":-100},{"n":152.7,"kind":"buy","v":28},{"n":157.6,"kind":"sell","v":96},{"n":161.98,"kind":"buy","v":57},{"n":166.9,"kind":"sell","v":92},{"n":168.8,"kind":"buy","v":-50}
],
"macdHist":[
{"n":-16,"v":55},{"n":-15,"v":59},{"n":-14,"v":29},{"n":-13,"v":6},{"n":-12,"v":-35},{"n":-11,"v":-48},{"n":-10,"v":-56},{"n":-9,"v":-72},{"n":-8,"v":-60},{"n":-7,"v":-23},{"n":-6,"v":-11},{"n":-5,"v":-2},{"n":-4,"v":14},{"n":-3,"v":2},{"n":-2,"v":7},{"n":-1,"v":11},{"n":0,"v":43},{"n":1,"v":80},{"n":2,"v":95},{"n":3,"v":98},{"n":4,"v":86},{"n":5,"v":76},{"n":6,"v":80},{"n":7,"v":86},{"n":8,"v":94},{"n":9,"v":84},{"n":10,"v":82},{"n":11,"v":94},{"n":12,"v":109},{"n":13,"v":118},{"n":14,"v":123},{"n":15,"v":123},{"n":16,"v":111},{"n":17,"v":106},{"n":18,"v":106},{"n":19,"v":100},{"n":20,"v":81},{"n":21,"v":69},{"n":22,"v":77},{"n":23,"v":84},{"n":24,"v":105},{"n":25,"v":109},{"n":26,"v":103},{"n":27,"v":96},{"n":28,"v":90},{"n":29,"v":63},{"n":30,"v":49},{"n":31,"v":33},{"n":32,"v":14},{"n":33,"v":14},{"n":34,"v":22},{"n":35,"v":36},{"n":36,"v":30},{"n":37,"v":14},{"n":38,"v":2},{"n":39,"v":-7},{"n":40,"v":-19},{"n":41,"v":-19},{"n":42,"v":-31},{"n":43,"v":-19},{"n":44,"v":-21},{"n":45,"v":-31},{"n":46,"v":-81},{"n":47,"v":-103},{"n":48,"v":-86},{"n":49,"v":-71},{"n":50,"v":-56},{"n":51,"v":-30},{"n":52,"v":-7},{"n":53,"v":16},{"n":54,"v":32},{"n":55,"v":35},{"n":56,"v":21},{"n":57,"v":8},{"n":58,"v":-16},{"n":59,"v":-26},{"n":60,"v":-19},{"n":61,"v":-29},{"n":62,"v":-46},{"n":63,"v":-72},{"n":64,"v":-78},{"n":65,"v":-67},{"n":66,"v":-77},{"n":67,"v":-109},{"n":68,"v":-136},{"n":69,"v":-165},{"n":70,"v":-175},{"n":71,"v":-192},{"n":72,"v":-184},{"n":73,"v":-159},{"n":74,"v":-169},{"n":75,"v":-159},{"n":76,"v":-126},{"n":77,"v":-105},{"n":78,"v":-103},{"n":79,"v":-85},{"n":80,"v":-99},{"n":81,"v":-97},{"n":82,"v":-77},{"n":83,"v":-56},{"n":84,"v":-31},{"n":85,"v":-19},{"n":86,"v":-7},{"n":87,"v":-15},{"n":88,"v":-35},{"n":89,"v":-42},{"n":90,"v":-49},{"n":91,"v":-68},{"n":92,"v":-91},{"n":93,"v":-72},{"n":94,"v":-89},{"n":95,"v":-95},{"n":96,"v":-100},{"n":97,"v":-114},{"n":98,"v":-124},{"n":99,"v":-126},{"n":100,"v":-85},{"n":101,"v":-82},{"n":102,"v":-72},{"n":103,"v":-67},{"n":104,"v":-56},{"n":105,"v":-44},{"n":106,"v":-23},{"n":107,"v":-30},{"n":108,"v":-31},{"n":109,"v":-8},{"n":110,"v":-93},{"n":111,"v":-100},{"n":112,"v":-83},{"n":113,"v":-66},{"n":114,"v":-41},{"n":115,"v":-38},{"n":116,"v":-15},{"n":117,"v":-9},{"n":118,"v":3},{"n":119,"v":32},{"n":120,"v":47},{"n":121,"v":70},{"n":122,"v":92},{"n":123,"v":88},{"n":124,"v":81},{"n":125,"v":53},{"n":126,"v":43},{"n":127,"v":43},{"n":128,"v":35},{"n":129,"v":73},{"n":130,"v":106},{"n":131,"v":139},{"n":132,"v":151},{"n":133,"v":148},{"n":134,"v":129},{"n":135,"v":106},{"n":136,"v":90},{"n":137,"v":86},{"n":138,"v":76},{"n":139,"v":90},{"n":140,"v":90},{"n":141,"v":100},{"n":142,"v":121},{"n":143,"v":131},{"n":144,"v":125},{"n":145,"v":57},{"n":146,"v":22},{"n":147,"v":-2},{"n":148,"v":6},{"n":149,"v":51},{"n":150,"v":72},{"n":151,"v":80},{"n":152,"v":81},{"n":153,"v":55},{"n":154,"v":80},{"n":155,"v":96},{"n":156,"v":109},{"n":157,"v":113},{"n":158,"v":111},{"n":159,"v":106},{"n":160,"v":94},{"n":161,"v":84},{"n":162,"v":76},{"n":163,"v":67},{"n":164,"v":69},{"n":165,"v":65},{"n":166,"v":59},{"n":167,"v":49},{"n":168,"v":24},{"n":169,"v":8},{"n":171,"v":2}
],
"macdLines":[
{"s":"macd","n":-15.1,"v":72},{"s":"macd","n":-14,"v":26},{"s":"macd","n":-12.4,"v":-15},{"s":"macd","n":-9,"v":-79},{"s":"macd","n":-7,"v":-31},{"s":"macd","n":-5.5,"v":-11},{"s":"macd","n":-4.1,"v":8},{"s":"macd","n":-3.1,"v":-2},{"s":"macd","n":-1.1,"v":12},{"s":"macd","n":0,"v":47},{"s":"macd","n":0.8,"v":76},{"s":"macd","n":2.4,"v":103},{"s":"macd","n":3,"v":107},{"s":"macd","n":4.9,"v":92},{"s":"macd","n":7.7,"v":123},{"s":"macd","n":9.6,"v":118},{"s":"macd","n":11.8,"v":158},{"s":"macd","n":14,"v":181},{"s":"macd","n":16.2,"v":181},{"s":"macd","n":18.1,"v":185},{"s":"macd","n":21,"v":162},{"s":"macd","n":22.8,"v":183},{"s":"macd","n":24.4,"v":213},{"s":"macd","n":26.3,"v":217},{"s":"macd","n":28,"v":213},{"s":"macd","n":29.1,"v":187},{"s":"macd","n":32,"v":146},{"s":"macd","n":32.9,"v":146},{"s":"macd","n":35.1,"v":170},{"s":"macd","n":36,"v":166},{"s":"macd","n":37.7,"v":137},{"s":"macd","n":40.4,"v":117},{"s":"macd","n":42,"v":100},{"s":"macd","n":42.9,"v":113},{"s":"macd","n":44.8,"v":104},{"s":"macd","n":45.9,"v":47},{"s":"macd","n":46.9,"v":21},{"s":"macd","n":49.8,"v":53},{"s":"macd","n":52.4,"v":117},{"s":"macd","n":54,"v":146},{"s":"macd","n":54.9,"v":150},{"s":"macd","n":57.7,"v":100},{"s":"macd","n":58.6,"v":86},{"s":"macd","n":59.9,"v":94},{"s":"macd","n":61.5,"v":67},{"s":"macd","n":63.7,"v":26},{"s":"macd","n":65,"v":33},{"s":"macd","n":65.9,"v":22},{"s":"macd","n":68.1,"v":-60},{"s":"macd","n":70.9,"v":-133},{"s":"macd","n":71.8,"v":-130},{"s":"macd","n":72.8,"v":-115},{"s":"macd","n":74,"v":-130},{"s":"macd","n":75,"v":-126},{"s":"macd","n":76.6,"v":-89},{"s":"macd","n":78.8,"v":-76},{"s":"macd","n":80.7,"v":-95},{"s":"macd","n":82.1,"v":-76},{"s":"macd","n":84.1,"v":-27},{"s":"macd","n":86.2,"v":-4},{"s":"macd","n":88,"v":-11},{"s":"macd","n":89,"v":-52},{"s":"macd","n":92.8,"v":-109},{"s":"macd","n":94.1,"v":-103},{"s":"macd","n":99,"v":-174},{"s":"macd","n":101.9,"v":-130},{"s":"macd","n":104.9,"v":-114},{"s":"macd","n":105.8,"v":-89},{"s":"macd","n":108.1,"v":-103},{"s":"macd","n":111,"v":-188},{"s":"macd","n":113.9,"v":-134},{"s":"macd","n":114.9,"v":-133},{"s":"macd","n":116.2,"v":-105},{"s":"macd","n":117.8,"v":-97},{"s":"macd","n":119.1,"v":-56},{"s":"macd","n":121.9,"v":11},{"s":"macd","n":123.7,"v":6},{"s":"macd","n":125.3,"v":-23},{"s":"macd","n":127.9,"v":-30},{"s":"macd","n":128.9,"v":26},{"s":"macd","n":131.5,"v":104},{"s":"macd","n":133.1,"v":113},{"s":"macd","n":136,"v":70},{"s":"macd","n":138,"v":65},{"s":"macd","n":140.9,"v":96},{"s":"macd","n":143,"v":142},{"s":"macd","n":144.1,"v":129},{"s":"macd","n":146,"v":18},{"s":"macd","n":147.7,"v":14},{"s":"macd","n":149.6,"v":88},{"s":"macd","n":151.9,"v":117},{"s":"macd","n":152.9,"v":92},{"s":"macd","n":156.1,"v":166},{"s":"macd","n":159,"v":172},{"s":"macd","n":162.1,"v":148},{"s":"macd","n":163.9,"v":155},{"s":"macd","n":166.8,"v":147},{"s":"macd","n":168.6,"v":113},{"s":"macd","n":170.9,"v":98},
{"s":"signal","n":-14,"v":2},{"s":"signal","n":-10.2,"v":-2},{"s":"signal","n":-5.1,"v":-8},{"s":"signal","n":-2,"v":-8},{"s":"signal","n":0.2,"v":-5},{"s":"signal","n":3.7,"v":10},{"s":"signal","n":10,"v":37},{"s":"signal","n":15,"v":63},{"s":"signal","n":19.4,"v":84},{"s":"signal","n":24.4,"v":105},{"s":"signal","n":28.2,"v":123},{"s":"signal","n":32.6,"v":131},{"s":"signal","n":37.6,"v":135},{"s":"signal","n":43.9,"v":131},{"s":"signal","n":48.9,"v":113},{"s":"signal","n":52,"v":109},{"s":"signal","n":57.7,"v":114},{"s":"signal","n":60.9,"v":111},{"s":"signal","n":66.5,"v":92},{"s":"signal","n":71.5,"v":53},{"s":"signal","n":76.6,"v":21},{"s":"signal","n":81,"v":0},{"s":"signal","n":86,"v":-2},{"s":"signal","n":90.6,"v":-19},{"s":"signal","n":96.1,"v":-35},{"s":"signal","n":101.6,"v":-64},{"s":"signal","n":108.1,"v":-72},{"s":"signal","n":113.3,"v":-93},{"s":"signal","n":117.5,"v":-95},{"s":"signal","n":123.7,"v":-76},{"s":"signal","n":127.6,"v":-68},{"s":"signal","n":132.8,"v":-35},{"s":"signal","n":137.9,"v":-15},{"s":"signal","n":143.8,"v":14},{"s":"signal","n":147,"v":18},{"s":"signal","n":152.9,"v":34},{"s":"signal","n":158,"v":59},{"s":"signal","n":162,"v":76},{"s":"signal","n":166.5,"v":90},{"s":"signal","n":170.9,"v":94}
],
"cci":[
{"n":-15.1,"v":46},{"n":-14,"v":-7},{"n":-12.2,"v":-75},{"n":-9.2,"v":-117},{"n":-8.8,"v":-100},{"n":-7,"v":-13},{"n":-6.1,"v":-3},{"n":-4.2,"v":48},{"n":-3.1,"v":1},{"n":-1.1,"v":58},{"n":0.8,"v":223},{"n":2.4,"v":152},{"n":3.4,"v":99},{"n":4.9,"v":48},{"n":5.9,"v":87},{"n":7.7,"v":105},{"n":9.2,"v":75},{"n":10.25,"v":99},{"n":12.1,"v":182},{"n":13.1,"v":178},{"n":15.5,"v":99},{"n":16.85,"v":87},{"n":18.1,"v":105},{"n":19.2,"v":105},{"n":20,"v":70},{"n":21.1,"v":75},{"n":21.9,"v":111},{"n":23.8,"v":190},{"n":26,"v":126},{"n":27.9,"v":107},{"n":28.9,"v":52},{"n":30.4,"v":55},{"n":32,"v":46},{"n":32.9,"v":46},{"n":33.8,"v":93},{"n":35,"v":232},{"n":36.6,"v":99},{"n":37.6,"v":34},{"n":38.85,"v":58},{"n":39.85,"v":5},{"n":41.4,"v":64},{"n":42.9,"v":99},{"n":44,"v":99},{"n":44.8,"v":22},{"n":45.5,"v":-96},{"n":46,"v":-214},{"n":46.9,"v":-225},{"n":47.5,"v":-96},{"n":48.9,"v":40},{"n":50,"v":75},{"n":50.9,"v":158},{"n":52.05,"v":178},{"n":53,"v":178},{"n":55.1,"v":99},{"n":56.45,"v":58},{"n":58,"v":10},{"n":59,"v":5},{"n":60.8,"v":58},{"n":61.8,"v":-25},{"n":62.9,"v":-137},{"n":64,"v":-96},{"n":65,"v":-37},{"n":65.9,"v":-54},{"n":67,"v":-190},{"n":68.1,"v":-205},{"n":69.3,"v":-178},{"n":71.7,"v":-107},{"n":73.1,"v":-84},{"n":74.4,"v":-90},{"n":75.9,"v":-19},{"n":77.2,"v":-7},{"n":78.1,"v":-31},{"n":79,"v":-7},{"n":80,"v":-96},{"n":81,"v":-131},{"n":81.9,"v":22},{"n":83.8,"v":99},{"n":85,"v":125},{"n":86.2,"v":99},{"n":88,"v":-7},{"n":89,"v":-149},{"n":90,"v":-158},{"n":91,"v":-137},{"n":92,"v":-143},{"n":92.85,"v":-90},{"n":94,"v":-70},{"n":94.8,"v":-93},{"n":97.7,"v":-119},{"n":98.9,"v":-149},{"n":99.7,"v":-96},{"n":101,"v":-45},{"n":101.9,"v":-78},{"n":103.6,"v":-60},{"n":105.8,"v":16},{"n":107.1,"v":-66},{"n":108.1,"v":-113},{"n":109,"v":-282},{"n":110,"v":-255},{"n":111.7,"v":-101},{"n":113,"v":-46},{"n":113.9,"v":-46},{"n":115.6,"v":-21},{"n":117.8,"v":-25},{"n":118.5,"v":-1},{"n":119.8,"v":117},{"n":121.9,"v":170},{"n":122.8,"v":96},{"n":123.7,"v":58},{"n":125,"v":-31},{"n":126,"v":-62},{"n":126.9,"v":-22},{"n":127.8,"v":-58},{"n":128.5,"v":16},{"n":129.2,"v":129},{"n":130.8,"v":185},{"n":132.1,"v":140},{"n":133.2,"v":81},{"n":135,"v":20},{"n":136,"v":25},{"n":137.8,"v":13},{"n":139.2,"v":75},{"n":140.2,"v":75},{"n":141.5,"v":117},{"n":143,"v":188},{"n":143.9,"v":99},{"n":144.8,"v":-72},{"n":146,"v":-110},{"n":148,"v":-13},{"n":149,"v":111},{"n":150.6,"v":109},{"n":151.6,"v":87},{"n":152.7,"v":16},{"n":154.5,"v":123},{"n":156.1,"v":126},{"n":157.7,"v":96},{"n":159.7,"v":75},{"n":161,"v":75},{"n":162,"v":58},{"n":163.6,"v":107},{"n":165.5,"v":111},{"n":166.2,"v":126},{"n":167,"v":93},{"n":168.1,"v":-7},{"n":168.8,"v":-60},{"n":170.9,"v":32}
],
"cciFill":[
{"seg":1,"kind":"hi","n":-0.8,"v":100},{"seg":1,"kind":"hi","n":0.8,"v":223},{"seg":1,"kind":"hi","n":2.4,"v":152},{"seg":1,"kind":"hi","n":3.6,"v":100},
{"seg":2,"kind":"hi","n":10.25,"v":100},{"seg":2,"kind":"hi","n":12.1,"v":182},{"seg":2,"kind":"hi","n":13.1,"v":178},{"seg":2,"kind":"hi","n":15.5,"v":100},
{"seg":3,"kind":"hi","n":21.5,"v":100},{"seg":3,"kind":"hi","n":23.8,"v":190},{"seg":3,"kind":"hi","n":26,"v":126},{"seg":3,"kind":"hi","n":27.9,"v":107},{"seg":3,"kind":"hi","n":28.3,"v":100},
{"seg":4,"kind":"hi","n":34,"v":100},{"seg":4,"kind":"hi","n":35,"v":232},{"seg":4,"kind":"hi","n":36.6,"v":100},
{"seg":5,"kind":"hi","n":50.5,"v":100},{"seg":5,"kind":"hi","n":50.9,"v":158},{"seg":5,"kind":"hi","n":52.05,"v":178},{"seg":5,"kind":"hi","n":53,"v":178},{"seg":5,"kind":"hi","n":55.1,"v":100},
{"seg":6,"kind":"hi","n":83.8,"v":100},{"seg":6,"kind":"hi","n":85,"v":125},{"seg":6,"kind":"hi","n":86.2,"v":100},
{"seg":7,"kind":"hi","n":118.9,"v":100},{"seg":7,"kind":"hi","n":119.8,"v":117},{"seg":7,"kind":"hi","n":121.9,"v":170},{"seg":7,"kind":"hi","n":122.8,"v":100},
{"seg":8,"kind":"hi","n":128.9,"v":100},{"seg":8,"kind":"hi","n":129.2,"v":129},{"seg":8,"kind":"hi","n":130.8,"v":185},{"seg":8,"kind":"hi","n":132.1,"v":140},{"seg":8,"kind":"hi","n":132.6,"v":100},
{"seg":9,"kind":"hi","n":140.9,"v":100},{"seg":9,"kind":"hi","n":141.5,"v":117},{"seg":9,"kind":"hi","n":143,"v":188},{"seg":9,"kind":"hi","n":143.9,"v":100},
{"seg":10,"kind":"hi","n":148.8,"v":100},{"seg":10,"kind":"hi","n":149,"v":111},{"seg":10,"kind":"hi","n":150.6,"v":109},{"seg":10,"kind":"hi","n":151.2,"v":100},
{"seg":11,"kind":"hi","n":154.2,"v":100},{"seg":11,"kind":"hi","n":154.5,"v":123},{"seg":11,"kind":"hi","n":156.1,"v":126},{"seg":11,"kind":"hi","n":157.5,"v":100},
{"seg":12,"kind":"hi","n":163.3,"v":100},{"seg":12,"kind":"hi","n":163.6,"v":107},{"seg":12,"kind":"hi","n":165.5,"v":111},{"seg":12,"kind":"hi","n":166.2,"v":126},{"seg":12,"kind":"hi","n":167,"v":100},
{"seg":13,"kind":"lo","n":-9.5,"v":-100},{"seg":13,"kind":"lo","n":-9.2,"v":-117},{"seg":13,"kind":"lo","n":-8.8,"v":-100},
{"seg":14,"kind":"lo","n":45.6,"v":-100},{"seg":14,"kind":"lo","n":46,"v":-214},{"seg":14,"kind":"lo","n":46.9,"v":-225},{"seg":14,"kind":"lo","n":47.5,"v":-100},
{"seg":15,"kind":"lo","n":62.6,"v":-100},{"seg":15,"kind":"lo","n":62.9,"v":-137},{"seg":15,"kind":"lo","n":64,"v":-100},
{"seg":16,"kind":"lo","n":66.3,"v":-100},{"seg":16,"kind":"lo","n":67,"v":-190},{"seg":16,"kind":"lo","n":68.1,"v":-205},{"seg":16,"kind":"lo","n":69.3,"v":-178},{"seg":16,"kind":"lo","n":71.7,"v":-107},{"seg":16,"kind":"lo","n":71.9,"v":-100},
{"seg":17,"kind":"lo","n":80.4,"v":-100},{"seg":17,"kind":"lo","n":81,"v":-131},{"seg":17,"kind":"lo","n":81.9,"v":-100},
{"seg":18,"kind":"lo","n":88.65,"v":-100},{"seg":18,"kind":"lo","n":89,"v":-149},{"seg":18,"kind":"lo","n":90,"v":-158},{"seg":18,"kind":"lo","n":91,"v":-137},{"seg":18,"kind":"lo","n":92,"v":-143},{"seg":18,"kind":"lo","n":92.85,"v":-100},
{"seg":19,"kind":"lo","n":95.3,"v":-100},{"seg":19,"kind":"lo","n":97.7,"v":-119},{"seg":19,"kind":"lo","n":98.9,"v":-149},{"seg":19,"kind":"lo","n":99.7,"v":-100},
{"seg":20,"kind":"lo","n":108,"v":-100},{"seg":20,"kind":"lo","n":109,"v":-282},{"seg":20,"kind":"lo","n":110,"v":-255},{"seg":20,"kind":"lo","n":111.7,"v":-100},
{"seg":21,"kind":"lo","n":145.6,"v":-100},{"seg":21,"kind":"lo","n":146,"v":-110},{"seg":21,"kind":"lo","n":146.5,"v":-100}
],
"cciLabels":[
{"n":-7.6,"v":-71,"t":"BUY"},{"n":4.9,"v":120,"t":"SELL"},{"n":6.1,"v":78,"t":"BUY"},{"n":16.9,"v":120,"t":"SELL"},{"n":29.3,"v":120,"t":"SELL"},{"n":34.3,"v":74,"t":"BUY"},{"n":41.3,"v":46,"t":"BUY"},{"n":45.4,"v":124,"t":"SELL"},{"n":48.9,"v":-71,"t":"BUY"},{"n":56.5,"v":120,"t":"SELL"},{"n":62.3,"v":64,"t":"SELL"},{"n":66.4,"v":-14,"t":"SELL"},{"n":65.3,"v":-71,"t":"BUY"},{"n":73.1,"v":-71,"t":"BUY"},{"n":82.5,"v":-71,"t":"BUY"},{"n":87.6,"v":124,"t":"SELL"},{"n":94.2,"v":-71,"t":"BUY"},{"n":101.1,"v":-71,"t":"BUY"},{"n":113.2,"v":-71,"t":"BUY"},{"n":119.2,"v":4,"t":"BUY"},{"n":124.3,"v":120,"t":"SELL"},{"n":129.2,"v":-18,"t":"BUY"},{"n":134.6,"v":120,"t":"SELL"},{"n":139.1,"v":57,"t":"BUY"},{"n":145.3,"v":120,"t":"SELL"},{"n":147.5,"v":-71,"t":"BUY"},{"n":154.2,"v":57,"t":"BUY"},{"n":159.1,"v":120,"t":"SELL"},{"n":163.2,"v":21,"t":"BUY"},{"n":168.3,"v":120,"t":"SELL"},{"n":170.1,"v":-88,"t":"BUY"}
]
},
"vconcat":[
{
"width":1235,"height":503,
"resolve":{"scale":{"color":"independent"}},
"encoding":{"x":{"field":"n","type":"quantitative","scale":{"domain":[-16,180.4],"nice":false,"zero":false,"padding":0},"axis":{"title":null,"labels":false,"values":[0,22,43,65,86,109,130,152,176],"grid":true}}},
"layer":[
{"data":{"name":"cloud"},"mark":{"type":"area","opacity":1},"encoding":{"y":{"field":"v","type":"quantitative","scale":{"domain":[5316,7332],"nice":false,"zero":false},"axis":{"title":null,"orient":"right","values":[5400,5600,5800,6000,6200,6400,6600,6800,7000,7200],"labelExpr":"datum.value==7000?'':format(datum.value,'.1f')","labelPadding":5,"labelOverlap":false,"grid":true}},"y2":{"field":"v2"},"detail":{"field":"seg"},"color":{"field":"kind","type":"nominal","scale":{"domain":["blue","red"],"range":["#a8cde8","#ff9f9f"]},"legend":null}}},
{"data":{"name":"cloud"},"mark":{"type":"line","color":"#8a8a8a","strokeWidth":1.2},"encoding":{"y":{"field":"v2","type":"quantitative"},"detail":{"field":"seg"}}},
{"data":{"name":"cloud"},"mark":{"type":"line","color":"black","strokeWidth":1.2},"encoding":{"y":{"field":"v","type":"quantitative"},"detail":{"field":"seg"}}},
{"data":{"name":"lines"},"mark":{"type":"line","strokeWidth":1.2},"encoding":{"y":{"field":"v","type":"quantitative"},"color":{"field":"s","type":"nominal","scale":{"domain":["bbUp","bbLo","black","blue","red","purple","teal"],"range":["#e07b22","#e07b22","#111111","#2a3cff","#ff1a1a","#8b2a9b","#1a8a9a"]},"legend":null}}},
{"data":{"name":"candles"},"mark":{"type":"rule","color":"black","strokeWidth":1},"encoding":{"y":{"field":"l","type":"quantitative"},"y2":{"field":"h"}}},
{"data":{"name":"candles"},"mark":{"type":"bar","size":4,"stroke":"black","strokeWidth":1},"encoding":{"y":{"field":"o","type":"quantitative"},"y2":{"field":"c"},"color":{"condition":{"test":"datum.c>=datum.o","value":"#0a9fe0"},"value":"#e8342e"}}},
{"data":{"values":[{"zone":"a","n":53.5,"n2":180.4,"v":7192,"v2":7124},{"zone":"b","n":59.9,"n2":180.4,"v":7124,"v2":7067},{"zone":"c","n":65,"n2":180.4,"v":7067,"v2":6947},{"zone":"d","n":66.7,"n2":180.4,"v":6947,"v2":6875},{"zone":"e","n":87.9,"n2":180.4,"v":6875,"v2":6791}]},"mark":{"type":"rect"},"encoding":{"x2":{"field":"n2"},"y":{"field":"v","type":"quantitative"},"y2":{"field":"v2"},"color":{"field":"zone","type":"nominal","scale":{"domain":["a","b","c","d","e"],"range":["rgba(0,0,0,0.52)","rgba(0,0,0,0.45)","rgba(0,0,0,0.4)","rgba(0,0,0,0.29)","rgba(0,0,0,0.2)"]},"legend":null}}},
{"data":{"values":[{"n":111.1,"v":6294,"v2":5901},{"n":166,"v":7104,"v2":6651},{"n":169.6,"v":7043,"v2":6703}]},"mark":{"type":"area","color":"#33ee33","opacity":0.25},"encoding":{"y":{"field":"v","type":"quantitative"},"y2":{"field":"v2"}}},
{"data":{"values":[{"n":152.9,"v":6903,"v2":6903},{"n":166,"v":7104,"v2":6663},{"n":180.3,"v":6863,"v2":6402}]},"mark":{"type":"area","color":"#ff6666","opacity":0.35},"encoding":{"y":{"field":"v","type":"quantitative"},"y2":{"field":"v2"}}},
{"data":{"values":[{"n":54.8,"n2":66.9}]},"mark":{"type":"rect","color":"black","opacity":0.21},"encoding":{"x2":{"field":"n2"}}},
{"data":{"name":"signals"},"mark":{"type":"rule","strokeWidth":1.2},"encoding":{"color":{"field":"kind","type":"nominal","scale":{"domain":["buy","sell"],"range":["#3dbb12","#ff0000"]},"legend":null}}},
{"data":{"values":[{"n":53.5,"n2":180.4,"v":7192},{"n":59.9,"n2":180.4,"v":7124},{"n":65,"n2":180.4,"v":7067},{"n":66.7,"n2":180.4,"v":6947},{"n":33.8,"n2":180.4,"v":6875},{"n":87.9,"n2":180.4,"v":6791},{"n":141,"n2":180.4,"v":6590},{"n":138.3,"n2":176,"v":6446}]},"mark":{"type":"rule","color":"#ff0000","strokeWidth":1},"encoding":{"x2":{"field":"n2"},"y":{"field":"v","type":"quantitative"}}},
{"data":{"values":[{"n":108,"n2":180.4,"v":6398},{"n":8.5,"n2":179.1,"v":6194},{"n":10.6,"n2":179.1,"v":5989},{"n":-10.1,"n2":177.6,"v":5609}]},"mark":{"type":"rule","color":"#f01010","strokeWidth":2,"strokeDash":[9,6]},"encoding":{"x2":{"field":"n2"},"y":{"field":"v","type":"quantitative"}}},
{"data":{"values":[{"s":"up","n":108.9,"v":6262},{"s":"up","n":179.9,"v":7312},{"s":"lo","n":111.1,"v":5901},{"s":"lo","n":180.4,"v":6851}]},"mark":{"type":"line","color":"black","strokeWidth":2,"strokeDash":[2,3]},"encoding":{"y":{"field":"v","type":"quantitative"},"detail":{"field":"s"}}},
{"data":{"values":[{"s":"a","n":152.9,"v":6903},{"s":"a","n":180.4,"v":6398},{"s":"b","n":166,"v":7104},{"s":"b","n":180.3,"v":6863}]},"mark":{"type":"line","color":"#ff0000","strokeWidth":2,"strokeDash":[2,3]},"encoding":{"y":{"field":"v","type":"quantitative"},"detail":{"field":"s"}}},
{"data":{"values":[{"i":1,"n":166.1,"v":7316},{"i":2,"n":169.9,"v":7232},{"i":3,"n":168.2,"v":7236},{"i":4,"n":169.9,"v":7232},{"i":5,"n":169.6,"v":7272}]},"mark":{"type":"line","color":"#ff0000","strokeWidth":2},"encoding":{"y":{"field":"v","type":"quantitative"},"order":{"field":"i"}}},
{"data":{"values":[{"n":65,"v":7083}]},"mark":{"type":"point","shape":"circle","filled":true,"color":"#a8a820","opacity":0.8,"size":480,"stroke":"#555500","strokeWidth":2},"encoding":{"y":{"field":"v","type":"quantitative"}}},
{"data":{"values":[{"n":65,"v":7083}]},"mark":{"type":"point","shape":"circle","filled":true,"color":"#e02020","size":40},"encoding":{"y":{"field":"v","type":"quantitative"}}},
{"data":{"values":[{"n":89.9,"v":6899,"kind":"r"},{"n":88.8,"v":6703,"kind":"k"},{"n":117.9,"v":6174,"kind":"k"},{"n":154,"v":6298,"kind":"k"}]},"mark":{"type":"point","shape":"circle","filled":false,"size":210,"strokeWidth":2,"opacity":1},"encoding":{"y":{"field":"v","type":"quantitative"},"color":{"field":"kind","type":"nominal","scale":{"domain":["r","k"],"range":["#c00000","#000000"]},"legend":null}}},
{"data":{"values":[{"n":171,"v":7015},{"n":169.1,"v":6883}]},"mark":{"type":"point","shape":"circle","filled":false,"size":40,"strokeWidth":2,"color":"black","opacity":1},"encoding":{"y":{"field":"v","type":"quantitative"}}},
{"data":{"values":[{"n":-14.07,"v":7272,"t":"Bollinger Band","g":"a"},{"n":-0.08,"v":7272,"t":"20","g":"b"},{"n":3.26,"v":7272,"t":"2.00","g":"b"},{"n":11.05,"v":7272,"t":"Short Periode","g":"a"},{"n":24.25,"v":7272,"t":"7","g":"a"},{"n":27.9,"v":7272,"t":"Long Periode","g":"a"},{"n":40.9,"v":7272,"t":"22","g":"a"},{"n":44.6,"v":7272,"t":"Signal Periode","g":"a"},{"n":58.6,"v":7272,"t":"44","g":"a"},{"n":65,"v":7272,"t":"EMA","g":"a"},{"n":69.9,"v":7272,"t":"200","g":"c"},{"n":74.7,"v":7272,"t":"EMA","g":"a"},{"n":79.8,"v":7272,"t":"100","g":"d"},{"n":84.5,"v":7272,"t":"EMA","g":"a"},{"n":89.6,"v":7272,"t":"100","g":"e"}]},"mark":{"type":"text","align":"left","baseline":"middle","fontSize":12},"encoding":{"y":{"field":"v","type":"quantitative"},"text":{"field":"t"},"color":{"field":"g","type":"nominal","scale":{"domain":["a","b","c","d","e"],"range":["#666666","#e06a10","#b0006f","#00809f","#8a5a10"]},"legend":null}}},
{"data":{"values":[{"n":91,"v":6711,"t":"short"},{"n":102.7,"v":6102,"t":"long (weak)"}]},"mark":{"type":"text","align":"left","baseline":"middle","fontSize":16,"fontWeight":"bold","color":"#111111"},"encoding":{"y":{"field":"v","type":"quantitative"},"text":{"field":"t"}}},
{"data":{"values":[{"n":91.7,"v":6919,"t":"Trendwechsel bearish"},{"n":146.1,"v":6230,"t":"Trendwechsel bullish"}]},"mark":{"type":"text","align":"left","baseline":"middle","fontSize":11.5,"fontWeight":"bold","color":"#111111"},"encoding":{"y":{"field":"v","type":"quantitative"},"text":{"field":"t"}}},
{"data":{"values":[{"n":167.4,"v":6470,"t":"SUPPORT."}]},"mark":{"type":"text","align":"left","baseline":"middle","fontSize":12,"fontWeight":"bold","color":"#ff1010"},"encoding":{"y":{"field":"v","type":"quantitative"},"text":{"field":"t"}}},
{"data":{"values":[{"n":171.2,"v":7168,"t":"oBB"},{"n":171.4,"v":6699,"t":"uBB"}]},"mark":{"type":"text","align":"left","baseline":"middle","fontSize":11,"color":"#5555ee"},"encoding":{"y":{"field":"v","type":"quantitative"},"text":{"field":"t"}}},
{"data":{"values":[{"n":171.8,"v":7035,"t":"Abpraller"},{"n":167.4,"v":6847,"t":"Abpraller"}]},"mark":{"type":"text","align":"left","baseline":"middle","fontSize":9,"color":"#222222"},"encoding":{"y":{"field":"v","type":"quantitative"},"text":{"field":"t"}}},
{"data":{"values":[{"n":-13.9,"v":5364,"t":"Daten sind indikativ"}]},"mark":{"type":"text","align":"left","baseline":"middle","fontSize":10,"font":"DejaVu Sans","color":"#222222"},"encoding":{"y":{"field":"v","type":"quantitative"},"text":{"field":"t"}}},
{"data":{"values":[{"n":180.4,"n2":190.4,"v":7043,"v2":6971}]},"mark":{"type":"rect","fill":"#dddddd","stroke":"black","strokeWidth":1},"encoding":{"x2":{"field":"n2"},"y":{"field":"v","type":"quantitative"},"y2":{"field":"v2"}}},
{"data":{"values":[{"n":176.6,"n2":190.4,"v":6991}]},"mark":{"type":"rule","color":"#888888","strokeWidth":1.5},"encoding":{"x2":{"field":"n2"},"y":{"field":"v","type":"quantitative"}}},
{"data":{"values":[{"n":180.9,"v":7003,"t":"7013.3"}]},"mark":{"type":"text","align":"left","baseline":"middle","fontSize":10,"color":"#333333"},"encoding":{"y":{"field":"v","type":"quantitative"},"text":{"field":"t"}}},
{"data":{"values":[{"n":190.4,"n2":193.5,"v":7236,"v2":6262}]},"mark":{"type":"rect","stroke":"#777777","strokeWidth":1,"fill":{"gradient":"linear","x1":0,"y1":0,"x2":0,"y2":1,"stops":[{"offset":0,"color":"#9a0000"},{"offset":0.7,"color":"#f00000"},{"offset":0.82,"color":"#d02000"},{"offset":0.9,"color":"#708020"},{"offset":1,"color":"#10e020"}]}},"encoding":{"x2":{"field":"n2"},"y":{"field":"v","type":"quantitative"},"y2":{"field":"v2"}}},
{"data":{"values":[{"n":190.4,"n2":193.5,"v":7000,"v2":6991}]},"mark":{"type":"rect","fill":"white"},"encoding":{"x2":{"field":"n2"},"y":{"field":"v","type":"quantitative"},"y2":{"field":"v2"}}},
{"data":{"values":[{"n":191.9,"v":7015}]},"mark":{"type":"point","shape":"triangle-up","filled":true,"color":"white","opacity":1,"size":70},"encoding":{"y":{"field":"v","type":"quantitative"}}},
{"data":{"values":[{"n":187.9,"v":6651,"t":"heatscale"}]},"mark":{"type":"text","align":"center","baseline":"middle","fontSize":20,"angle":270,"color":"#222222"},"encoding":{"y":{"field":"v","type":"quantitative"},"text":{"field":"t"}}},
{"data":{"values":[{"n":196.6,"n2":205.1,"v":7100,"v2":6691}]},"mark":{"type":"rect","fill":"#777777","opacity":0.55},"encoding":{"x2":{"field":"n2"},"y":{"field":"v","type":"quantitative"},"y2":{"field":"v2"}}},
{"data":{"values":[{"n":195.2,"n2":203.6,"v":7136,"v2":6715}]},"mark":{"type":"rect","fill":"white","stroke":"#666666","strokeWidth":2},"encoding":{"x2":{"field":"n2"},"y":{"field":"v","type":"quantitative"},"y2":{"field":"v2"}}},
{"data":{"values":[{"n":201.6,"v":7104,"v2":6755}]},"mark":{"type":"rule","color":"#3a9ad9","strokeWidth":2},"encoding":{"y":{"field":"v","type":"quantitative"},"y2":{"field":"v2"}}},
{"data":{"values":[{"n":201.6,"v":7095}]},"mark":{"type":"point","shape":"triangle-up","filled":true,"color":"#3a9ad9","opacity":1,"size":30},"encoding":{"y":{"field":"v","type":"quantitative"}}},
{"data":{"values":[{"n":201.6,"v":6764}]},"mark":{"type":"point","shape":"triangle-down","filled":true,"color":"#3a9ad9","opacity":1,"size":30},"encoding":{"y":{"field":"v","type":"quantitative"}}},
{"data":{"values":[{"n":198.9,"v":6931,"t":"meine aktuelle Tradingrange"}]},"mark":{"type":"text","align":"center","baseline":"middle","fontSize":8,"angle":270,"color":"#222222"},"encoding":{"y":{"field":"v","type":"quantitative"},"text":{"field":"t"}}},
{"data":{"values":[{"n":183.6,"v":6134,"t":"Support 6950/6942/"},{"n":194.9,"v":6053,"t":"6756/6725/"},{"n":194.9,"v":5973,"t":"6640/6572/"},{"n":194.9,"v":5893,"t":"6511/6376/"},{"n":194.9,"v":5813,"t":"6270/6192/"},{"n":194.9,"v":5733,"t":"6080"},{"n":184.1,"v":5524,"t":"Tagestief"},{"n":203.6,"v":5524,"t":"(ig)"},{"n":184.1,"v":5440,"t":"Tageshoch 7050 (ig)"}]},"mark":{"type":"text","align":"left","baseline":"middle","fontSize":16.5,"fontWeight":"bold","color":"#111111"},"encoding":{"y":{"field":"v","type":"quantitative"},"text":{"field":"t"}}},
{"data":{"values":[{"n":196.6,"v":5524,"t":"6944"}]},"mark":{"type":"text","align":"left","baseline":"middle","fontSize":16.5,"fontWeight":"bold","color":"#ff0000"},"encoding":{"y":{"field":"v","type":"quantitative"},"text":{"field":"t"}}}
]
},
{
"width":1235,"height":178,
"resolve":{"scale":{"color":"independent"}},
"encoding":{"x":{"field":"n","type":"quantitative","scale":{"domain":[-16,180.4],"nice":false,"zero":false,"padding":0},"axis":{"title":null,"labels":false,"values":[0,22,43,65,86,109,130,152,176],"grid":true}}},
"layer":[
{"data":{"values":[{"v":0}]},"mark":{"type":"rule","color":"#c8ccd8","strokeWidth":1.5},"encoding":{"x":{"value":0},"x2":{"value":1235},"y":{"field":"v","type":"quantitative","scale":{"domain":[-202,237],"nice":false,"zero":false},"axis":{"title":null,"orient":"right","values":[200,100,0,-100],"labels":false,"grid":true}}}},
{"data":{"values":[{"n":181.2,"v":200,"t":"200"},{"n":181.2,"v":100,"t":"100"},{"n":181.2,"v":0,"t":"0"},{"n":181.2,"v":-100,"t":"-100"}]},"mark":{"type":"text","align":"left","baseline":"middle","fontSize":10,"color":"#333333"},"encoding":{"y":{"field":"v","type":"quantitative"},"text":{"field":"t"}}},
{"data":{"name":"macdHist"},"mark":{"type":"bar","size":4.2},"encoding":{"y":{"field":"v","type":"quantitative"},"y2":{"datum":0},"color":{"condition":{"test":"datum.v>=0","value":"#78c000"},"value":"#e00000"}}},
{"data":{"values":[{"n":54.8,"n2":66.9}]},"mark":{"type":"rect","color":"black","opacity":0.21},"encoding":{"x2":{"field":"n2"}}},
{"data":{"name":"signals"},"mark":{"type":"rule","strokeWidth":1.2},"encoding":{"color":{"field":"kind","type":"nominal","scale":{"domain":["buy","sell"],"range":["#3dbb12","#ff0000"]},"legend":null}}},
{"data":{"name":"macdLines"},"mark":{"type":"line","strokeWidth":1.1},"encoding":{"y":{"field":"v","type":"quantitative"},"color":{"field":"s","type":"nominal","scale":{"domain":["macd","signal"],"range":["#3a3fe0","#e01010"]},"legend":null}}},
{"data":{"values":[{"n":-13,"v":0,"kind":"r"},{"n":-5.8,"v":-12,"kind":"g"},{"n":37.8,"v":133,"kind":"r"},{"n":57.7,"v":114,"kind":"r"},{"n":86.1,"v":-12,"kind":"r"},{"n":117.8,"v":-94,"kind":"g"},{"n":146.9,"v":25,"kind":"r"}]},"mark":{"type":"point","shape":"circle","filled":false,"size":180,"strokeWidth":2,"opacity":1},"encoding":{"y":{"field":"v","type":"quantitative"},"color":{"field":"kind","type":"nominal","scale":{"domain":["r","g"],"range":["#c81010","#22bb22"]},"legend":null}}},
{"data":{"values":[{"n":169.9,"v":91}]},"mark":{"type":"point","shape":"circle","filled":false,"size":500,"strokeWidth":2,"color":"#f00000","opacity":1},"encoding":{"y":{"field":"v","type":"quantitative"}}},
{"data":{"values":[{"n":-12.5,"v":49,"t":"short"},{"n":-8.5,"v":-57,"t":"long"},{"n":38.2,"v":183,"t":"short"},{"n":58.8,"v":151,"t":"short"},{"n":77.5,"v":27,"t":"short Abpraller!"},{"n":118.7,"v":-131,"t":"long aus überverkauft"},{"n":140.8,"v":-27,"t":"long Abpraller"}]},"mark":{"type":"text","align":"left","baseline":"middle","fontSize":16,"fontWeight":"bold","color":"#111111"},"encoding":{"y":{"field":"v","type":"quantitative"},"text":{"field":"t"}}},
{"data":{"values":[{"n":13.9,"v":126,"t":"Übertreibung"},{"n":31.3,"v":54,"t":"Übertreibung"},{"n":53.8,"v":47,"t":"Übertreibung"},{"n":155.9,"v":128,"t":"Übertreibung"},{"n":171.5,"v":123,"t":"short kommt !"}]},"mark":{"type":"text","align":"left","baseline":"middle","fontSize":12,"color":"#222222"},"encoding":{"y":{"field":"v","type":"quantitative"},"text":{"field":"t"}}},
{"data":{"values":[{"n":128.1,"v":-47,"t":"Überverkauft"}]},"mark":{"type":"text","align":"center","baseline":"middle","fontSize":12,"angle":343,"color":"#222222"},"encoding":{"y":{"field":"v","type":"quantitative"},"text":{"field":"t"}}},
{"data":{"values":[{"n":-14.7,"v":193,"t":"MACD"}]},"mark":{"type":"text","align":"left","baseline":"middle","fontSize":12,"color":"#666666"},"encoding":{"y":{"field":"v","type":"quantitative"},"text":{"field":"t"}}},
{"data":{"values":[{"n":-8.2,"v":193,"t":"7"},{"n":-4.8,"v":193,"t":"22"},{"n":-1.5,"v":193,"t":"44"}]},"mark":{"type":"text","align":"left","baseline":"middle","fontSize":12,"color":"#e01010"},"encoding":{"y":{"field":"v","type":"quantitative"},"text":{"field":"t"}}},
{"data":{"values":[{"n":86.9,"n2":89.5,"v":232,"v2":222}]},"mark":{"type":"rect","fill":"#b0b0b0"},"encoding":{"x2":{"field":"n2"},"y":{"field":"v","type":"quantitative"},"y2":{"field":"v2"}}}
]
},
{
"width":1235,"height":151,
"resolve":{"scale":{"color":"independent"}},
"encoding":{"x":{"field":"n","type":"quantitative","scale":{"domain":[-16,180.4],"nice":false,"zero":false,"padding":0},"axis":{"title":null,"values":[0,22,43,65,86,109,130,152,176],"labelExpr":"{'0':'Jan','22':'Feb','43':'Mrz','65':'Apr','86':'Mai','109':'Jun','130':'Jul','152':'Aug','176':'Sep'}[datum.value]","labelPadding":1,"grid":true}}},
"layer":[
{"data":{"values":[{"v":0,"k":"z"},{"v":100,"k":"o"},{"v":-100,"k":"o"}]},"mark":{"type":"rule","strokeWidth":1.2},"encoding":{"x":{"value":0},"x2":{"value":1235},"y":{"field":"v","type":"quantitative","scale":{"domain":[-280,253],"nice":false,"zero":false},"axis":{"title":null,"orient":"right","values":[200,100,0,-100,-200],"labels":false,"grid":true}},"color":{"field":"k","type":"nominal","scale":{"domain":["z","o"],"range":["#a9b3b8","#6f6f8f"]},"legend":null}}},
{"data":{"values":[{"n":181.2,"v":200,"t":"200"},{"n":181.2,"v":100,"t":"100"},{"n":181.2,"v":0,"t":"0"},{"n":181.2,"v":-100,"t":"-100"},{"n":181.2,"v":-200,"t":"-200"}]},"mark":{"type":"text","align":"left","baseline":"middle","fontSize":10,"color":"#333333"},"encoding":{"y":{"field":"v","type":"quantitative"},"text":{"field":"t"}}},
{"data":{"name":"cciFill"},"mark":{"type":"area","opacity":1},"encoding":{"y":{"field":"v","type":"quantitative"},"y2":{"datum":100},"detail":{"field":"seg"},"color":{"value":"#e8b0ac"}},"transform":[{"filter":"datum.kind=='hi'"}]},
{"data":{"name":"cciFill"},"mark":{"type":"area","opacity":1},"encoding":{"y":{"field":"v","type":"quantitative"},"y2":{"datum":-100},"detail":{"field":"seg"},"color":{"value":"#a8cde8"}},"transform":[{"filter":"datum.kind=='lo'"}]},
{"data":{"values":[{"n":54.8,"n2":66.9,"v":-312,"v2":253}]},"mark":{"type":"rect","color":"black","opacity":0.21},"encoding":{"x2":{"field":"n2"},"y":{"field":"v","type":"quantitative"},"y2":{"field":"v2"}}},
{"data":{"name":"cci"},"mark":{"type":"line","color":"#666666","strokeWidth":1},"encoding":{"y":{"field":"v","type":"quantitative"}}},
{"data":{"name":"signals"},"mark":{"type":"rule","strokeWidth":1.2},"encoding":{"y":{"field":"v","type":"quantitative"},"y2":{"datum":253},"color":{"field":"kind","type":"nominal","scale":{"domain":["buy","sell"],"range":["#3dbb12","#ff0000"]},"legend":null}}},
{"data":{"name":"signals"},"mark":{"type":"point","shape":"circle","filled":false,"size":125,"strokeWidth":2,"opacity":1},"encoding":{"y":{"field":"v","type":"quantitative"},"color":{"field":"kind","type":"nominal","scale":{"domain":["buy","sell"],"range":["#3dbb12","#ff0000"]},"legend":null}}},
{"data":{"values":[{"n":130.8,"v":188},{"n":180.4,"v":106}]},"mark":{"type":"line","color":"#ff0000","strokeWidth":2,"strokeDash":[2,3]},"encoding":{"y":{"field":"v","type":"quantitative"}}},
{"data":{"name":"cciLabels"},"mark":{"type":"text","align":"left","baseline":"middle","fontSize":12,"fontWeight":"bold","color":"#111111"},"encoding":{"y":{"field":"v","type":"quantitative"},"text":{"field":"t"}}},
{"data":{"values":[{"n":139.9,"v":216,"t":"Divergenz"}]},"mark":{"type":"text","align":"center","baseline":"middle","fontSize":11,"angle":8,"color":"#ff1010"},"encoding":{"y":{"field":"v","type":"quantitative"},"text":{"field":"t"}}},
{"data":{"values":[{"n":-14.7,"v":195,"t":"Commodity Channel Index"},{"n":9.6,"v":195,"t":"14"}]},"mark":{"type":"text","align":"left","baseline":"middle","fontSize":12,"color":"#666666"},"encoding":{"y":{"field":"v","type":"quantitative"},"text":{"field":"t"}}},
{"data":{"values":[{"n":86.9,"n2":89.5,"v":251,"v2":237}]},"mark":{"type":"rect","fill":"#b0b0b0"},"encoding":{"x2":{"field":"n2"},"y":{"field":"v","type":"quantitative"},"y2":{"field":"v2"}}}
]
}
]
}
